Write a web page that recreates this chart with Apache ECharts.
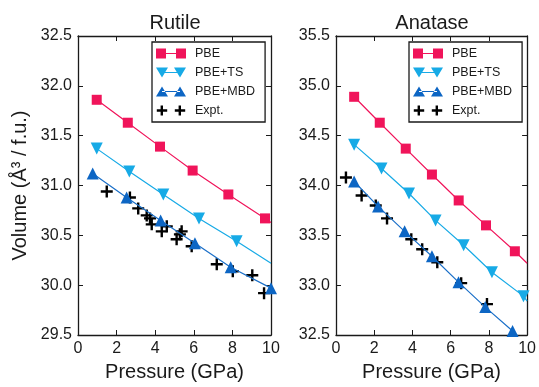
<!DOCTYPE html>
<html>
<head>
<meta charset="utf-8">
<script src="https://cdn.jsdelivr.net/npm/echarts@6/dist/echarts.min.js"></script>
<style>
  html, body { margin: 0; padding: 0; background: #fff; }
  #chart { width: 539px; height: 387px; }
</style>
</head>
<body>
<div id="chart"></div>
<script>
// Rutile panel
const rutilePbeP = [0.97, 2.58, 4.25, 5.94, 7.79, 9.69]
const rutilePbeV = [31.86, 31.63, 31.39, 31.15, 30.91, 30.67]
const rutileTsP = [0.97, 2.66, 4.42, 6.27, 8.22]
const rutileTsV = [31.37, 31.14, 30.91, 30.67, 30.44]
const rutileMbdP = [0.76, 2.52, 4.28, 6.06, 7.91, 10.0]
const rutileMbdV = [31.12, 30.88, 30.65, 30.42, 30.18, 29.97]
const rutileExptP = [1.49, 2.69, 3.12, 3.56, 3.73, 3.82, 4.34, 4.60, 5.11, 5.37, 5.28, 5.89, 7.19, 8.02, 9.03, 9.64]
const rutileExptV = [30.94, 30.88, 30.77, 30.70, 30.67, 30.61, 30.54, 30.59, 30.46, 30.54, 30.51, 30.39, 30.21, 30.14, 30.10, 29.92]
// volume where each fitted line meets P = 10 (PBE, PBE+TS, PBE+MBD)
const rutileLineEnd = [30.63, 30.22, 29.97]

// Anatase panel
const anatasePbeP = [0.95, 2.29, 3.65, 5.02, 6.42, 7.85, 9.36]
const anatasePbeV = [34.89, 34.63, 34.37, 34.11, 33.85, 33.60, 33.34]
const anataseTsP = [0.95, 2.38, 3.82, 5.21, 6.68, 8.16, 9.81]
const anataseTsV = [34.41, 34.17, 33.92, 33.65, 33.40, 33.13, 32.89]
const anataseMbdP = [0.95, 2.20, 3.59, 5.02, 6.41, 7.81, 9.24]
const anataseMbdV = [34.04, 33.79, 33.54, 33.29, 33.03, 32.78, 32.54]
const anataseExptP = [0.52, 1.34, 2.08, 2.67, 3.94, 4.51, 5.30, 6.55, 7.90]
const anataseExptV = [34.08, 33.90, 33.80, 33.67, 33.46, 33.36, 33.23, 33.02, 32.81]
const anataseLineEnd = [33.22, 32.84, 32.40]

const seriesNames = ['PBE', 'PBE+TS', 'PBE+MBD', 'Expt.']
const xTicks = { min: 0, max: 10, interval: 2 }

const FONT = 'Liberation Sans, Arial, sans-serif'
const INK = '#1a1a1a'
const colors = ['#F0145A', '#17AAE6', '#0D66C4', '#000000']
const lineColors = ['#F0145A', '#17AAE6', '#1A6FC8']

const crossPath = 'path://M4,0h2v10h-2z M0,4h10v2h-10z'
const legendIcons = [
  'path://M0,0h10v10h-10z M10,4.4h10v1.2h-10z M20,0h10v10h-10z',
  'path://M0,0h12l-6,10z M6,4.4h18v1.2h-18z M18,0h12l-6,10z',
  'path://M0,10h12l-6,-10z M6,4.4h18v1.2h-18z M18,10h12l-6,-10z',
  'path://M4.8,0h2.4v10h-2.4z M1,3.8h10.4v2.4h-10.4z M22.8,0h2.4v10h-2.4z M19,3.8h10.4v2.4h-10.4z'
]

function pairs(ps, vs) {
  return ps.map((p, i) => [p, vs[i]])
}

function lineData(ps, vs, endV) {
  const d = pairs(ps, vs)
  if (ps[ps.length - 1] < 10) d.push({ value: [10, endV], symbol: 'none' })
  return d
}

function panelSeries(idx, sets, lineEnd) {
  const symbols = ['rect', 'triangle', 'triangle']
  const sizes = [10, 12, 12]
  const rot = [0, 180, 0]
  const out = []
  for (let k = 0; k < 3; k++) {
    out.push({
      name: seriesNames[k],
      type: 'line',
      xAxisIndex: idx * 2,
      yAxisIndex: idx * 2,
      data: lineData(sets[k][0], sets[k][1], lineEnd[k]),
      symbol: symbols[k],
      symbolSize: sizes[k],
      symbolRotate: rot[k],
      showAllSymbol: true,
      clip: true,
      lineStyle: { color: lineColors[k], width: 1.2 },
      itemStyle: { color: colors[k] },
      emphasis: { disabled: true },
      animation: false
    })
  }
  out.push({
    name: seriesNames[3],
    type: 'scatter',
    xAxisIndex: idx * 2,
    yAxisIndex: idx * 2,
    data: pairs(sets[3][0], sets[3][1]),
    symbol: crossPath,
    symbolSize: 12,
    itemStyle: { color: '#000', opacity: 1 },
    emphasis: { disabled: true },
    animation: false
  })
  return out
}

function xAxes(gridIndex, showName) {
  const base = {
    gridIndex,
    type: 'value',
    min: xTicks.min,
    max: xTicks.max,
    interval: xTicks.interval,
    axisLine: { show: true, onZero: false, lineStyle: { color: INK, width: 1.3 } },
    axisTick: { show: true, inside: true, length: 5, lineStyle: { color: INK, width: 1 } },
    splitLine: { show: false }
  }
  return [
    Object.assign({}, base, {
      position: 'bottom',
      name: showName ? 'Pressure (GPa)' : '',
      nameLocation: 'middle',
      nameGap: 27,
      nameTextStyle: { fontFamily: FONT, fontSize: 20, color: INK },
      axisLabel: { fontFamily: FONT, fontSize: 16, color: INK, margin: 6 }
    }),
    Object.assign({}, base, { position: 'top', axisLabel: { show: false } })
  ]
}

function yAxes(gridIndex, min, max, name) {
  const base = {
    gridIndex,
    type: 'value',
    min,
    max,
    interval: 0.5,
    axisLine: { show: true, onZero: false, lineStyle: { color: INK, width: 1.3 } },
    axisTick: { show: true, inside: true, length: 5, lineStyle: { color: INK, width: 1 } },
    splitLine: { show: false }
  }
  return [
    Object.assign({}, base, {
      position: 'left',
      name,
      nameLocation: 'middle',
      nameGap: 48,
      nameTextStyle: { fontFamily: FONT, fontSize: 20, color: INK },
      axisLabel: {
        fontFamily: FONT, fontSize: 16, color: INK, margin: 6,
        formatter: v => v.toFixed(1)
      }
    }),
    Object.assign({}, base, { position: 'right', axisLabel: { show: false } })
  ]
}

function legendAt(left) {
  return {
    left,
    top: 42,
    orient: 'vertical',
    selectedMode: false,
    itemWidth: 30,
    itemHeight: 10,
    itemGap: 6,
    padding: [5, 10, 5, 4],
    borderColor: INK,
    borderWidth: 1.3,
    textStyle: { fontFamily: FONT, fontSize: 12.5, lineHeight: 12, color: INK, padding: [0, 0, 0, 4] },
    data: seriesNames.map((n, i) => ({ name: n, icon: legendIcons[i] }))
  }
}

const chart = echarts.init(document.getElementById('chart'), null, { renderer: 'canvas' })

chart.setOption({
  backgroundColor: '#fff',
  animation: false,
  textStyle: { fontFamily: FONT },
  title: [
    { text: 'Rutile', left: 175, top: 13, textAlign: 'center', padding: 0,
      textStyle: { fontFamily: FONT, fontSize: 20, fontWeight: 'normal', color: INK } },
    { text: 'Anatase', left: 432, top: 13, textAlign: 'center', padding: 0,
      textStyle: { fontFamily: FONT, fontSize: 20, fontWeight: 'normal', color: INK } }
  ],
  legend: [legendAt(152), legendAt(409)],
  grid: [
    { left: 78, top: 36, width: 193, height: 302 },
    { left: 336, top: 36, width: 192, height: 302 }
  ],
  xAxis: xAxes(0, true).concat(xAxes(1, true)),
  yAxis: yAxes(0, 29.5, 32.5, 'Volume (Å³ / f.u.)').concat(yAxes(1, 32.5, 35.5, '')),
  series: panelSeries(0, [
    [rutilePbeP, rutilePbeV],
    [rutileTsP, rutileTsV],
    [rutileMbdP, rutileMbdV],
    [rutileExptP, rutileExptV]
  ], rutileLineEnd).concat(panelSeries(1, [
    [anatasePbeP, anatasePbeV],
    [anataseTsP, anataseTsV],
    [anataseMbdP, anataseMbdV],
    [anataseExptP, anataseExptV]
  ], anataseLineEnd))
})
</script>
</body>
</html>
